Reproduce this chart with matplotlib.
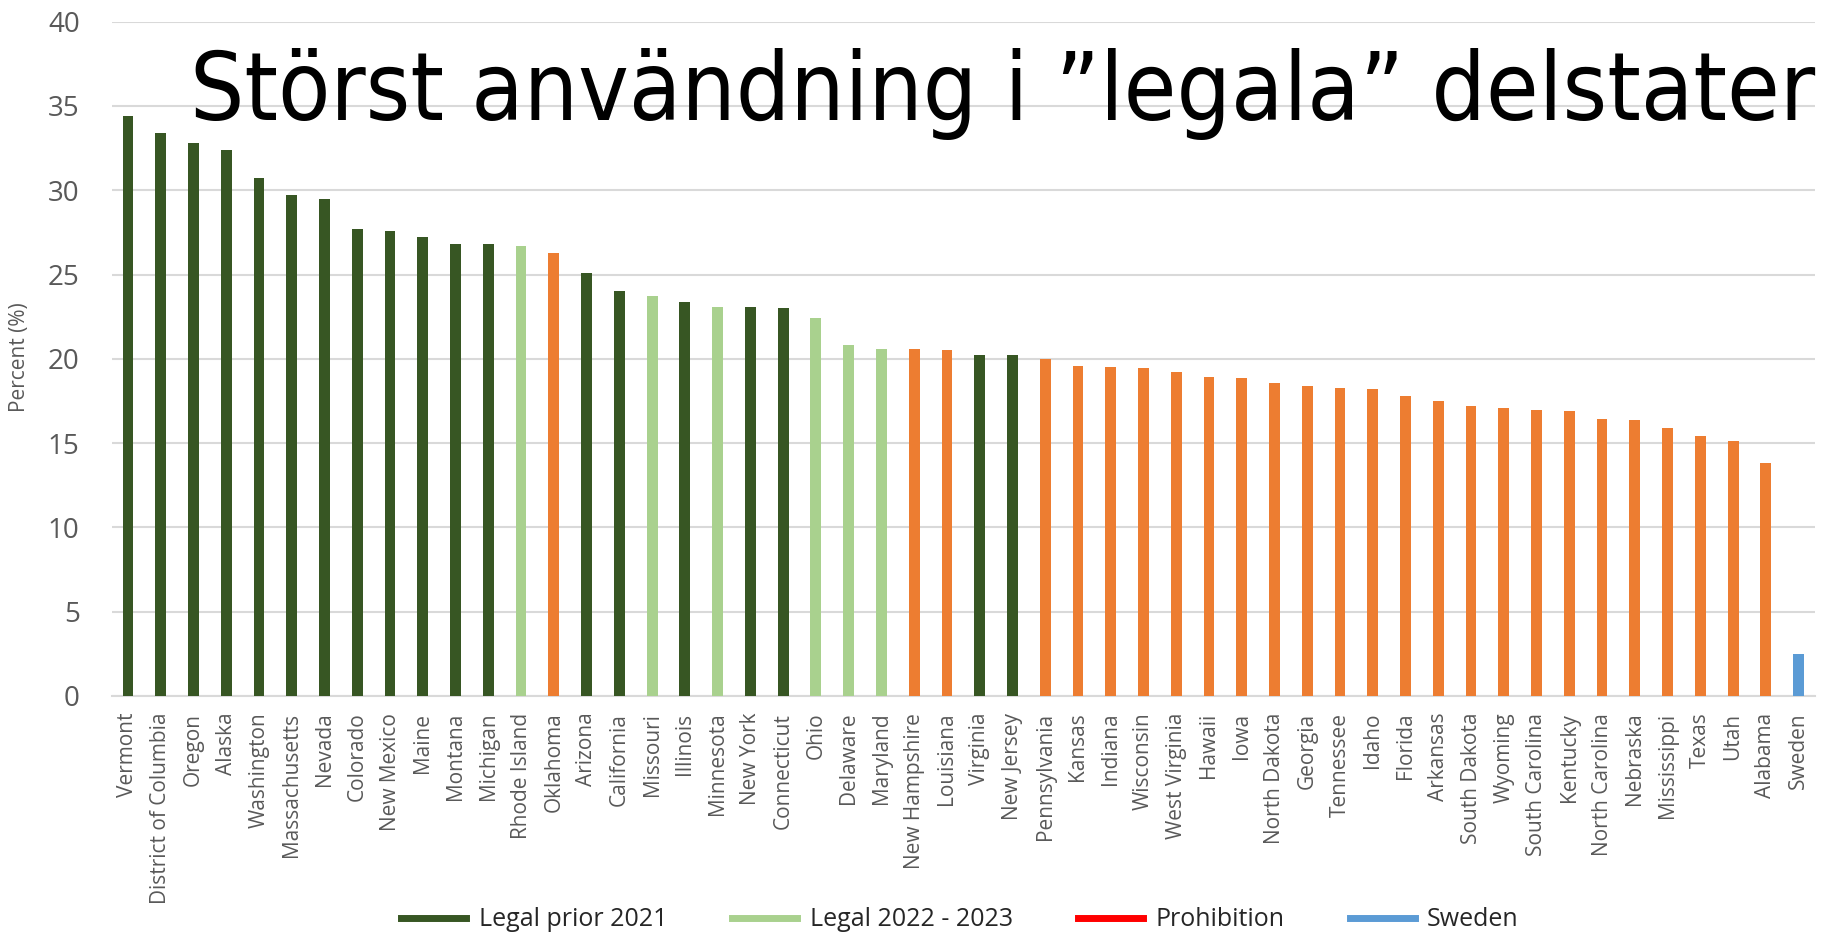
import matplotlib
matplotlib.use("Agg")
import matplotlib.pyplot as plt
from matplotlib.lines import Line2D

states = ["Vermont", "District of Columbia", "Oregon", "Alaska", "Washington",
          "Massachusetts", "Nevada", "Colorado", "New Mexico", "Maine", "Montana",
          "Michigan", "Rhode Island", "Oklahoma", "Arizona", "California", "Missouri",
          "Illinois", "Minnesota", "New York", "Connecticut", "Ohio", "Delaware",
          "Maryland", "New Hampshire", "Louisiana", "Virginia", "New Jersey",
          "Pennsylvania", "Kansas", "Indiana", "Wisconsin", "West Virginia", "Hawaii",
          "Iowa", "North Dakota", "Georgia", "Tennessee", "Idaho", "Florida",
          "Arkansas", "South Dakota", "Wyoming", "South Carolina", "Kentucky",
          "North Carolina", "Nebraska", "Mississippi", "Texas", "Utah", "Alabama",
          "Sweden"]

values = [34.4, 33.4, 32.8, 32.4, 30.7, 29.7, 29.5, 27.7, 27.6, 27.2, 26.8,
          26.8, 26.7, 26.3, 25.1, 24.0, 23.7, 23.4, 23.1, 23.1, 23.0, 22.4, 20.8,
          20.6, 20.6, 20.5, 20.2, 20.2, 20.0, 19.55, 19.5, 19.45, 19.2, 18.9,
          18.85, 18.55, 18.4, 18.3, 18.2, 17.8, 17.5, 17.2, 17.1, 16.95, 16.9,
          16.45, 16.4, 15.9, 15.4, 15.1, 13.8, 2.5]

# L = legal prior 2021, N = legal 2022-2023, P = prohibition, S = Sweden
groups = ["L", "L", "L", "L", "L", "L", "L", "L", "L", "L", "L", "L", "N", "P",
          "L", "L", "N", "L", "N", "L", "L", "N", "N", "N", "P", "P", "L", "L",
          "P", "P", "P", "P", "P", "P", "P", "P", "P", "P", "P", "P", "P", "P",
          "P", "P", "P", "P", "P", "P", "P", "P", "P", "S"]

legend_labels = ["Legal prior 2021", "Legal 2022 - 2023", "Prohibition", "Sweden"]
bar_colors = {"L": "#375623", "N": "#A9D18E", "P": "#ED7D31", "S": "#5B9BD5"}
legend_colors = ["#375623", "#A9D18E", "#FF0000", "#5B9BD5"]

title = "Störst användning i ”legala” delstater"
ylabel = "Percent (%)"
yticks = [0, 5, 10, 15, 20, 25, 30, 35, 40]

W, H = 1831, 934
fig = plt.figure(figsize=(W / 100, H / 100), dpi=100)
ax = fig.add_axes([111.6 / W, 1 - 696 / H, (1815 - 111.6) / W, (696 - 21.7) / H])

x = list(range(len(states)))
ax.bar(x, values, width=0.33, color=[bar_colors[g] for g in groups], zorder=3)

ax.set_xlim(-0.5, len(states) - 0.5)
ax.set_ylim(0, 40)
ax.set_yticks(yticks)
ax.yaxis.grid(True, color="#D9D9D9", linewidth=1.5, zorder=0)
ax.set_axisbelow(True)
for s in ["top", "right", "left"]:
    ax.spines[s].set_visible(False)
ax.spines["bottom"].set_color("#D9D9D9")
ax.spines["bottom"].set_linewidth(1.5)

ax.set_xticks(x)
ax.set_xticklabels(states, rotation=90, fontsize=15, color="#595959",
                   family="Open Sans", va="top", ha="center")
ax.tick_params(axis="x", length=0, pad=12)
ax.tick_params(axis="y", length=0, pad=23, labelsize=20, labelcolor="#595959")
for t in ax.get_yticklabels():
    t.set_family("Open Sans")

fig.text(20 / W, 1 - 357 / H, ylabel, rotation=90, ha="center", va="center",
         fontsize=15, color="#595959", family="Open Sans")

# title, fitted to reference width
tt = fig.text(190 / W, 1 - 120 / H, title, ha="left", va="baseline",
              fontsize=72, color="black", family="DejaVu Sans",
              fontstretch="condensed")
fig.canvas.draw()
r = fig.canvas.get_renderer()
bb = tt.get_window_extent(r)
tt.set_fontsize(72 * (1816 - 190) / bb.width)

handles = [Line2D([0], [0], color=c, lw=5) for c in legend_colors]
fig.legend(handles, legend_labels, loc="center", ncol=4,
           bbox_to_anchor=(960 / W, 1 - 920 / H), frameon=False,
           prop={"family": "Open Sans", "size": 18}, labelcolor="#262626",
           handlelength=2.6, handletextpad=0.5, columnspacing=2.6)

fig.savefig("out.png", dpi=100)
